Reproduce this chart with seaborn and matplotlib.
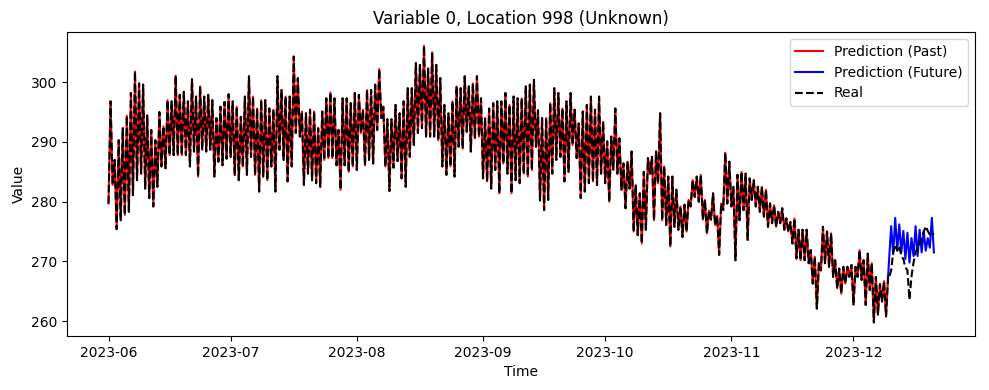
import numpy as np
import pandas as pd
import matplotlib
matplotlib.use("Agg")
import matplotlib.pyplot as plt
import seaborn as sns

# ---- data (daily lows / highs, Jun 1 .. Dec 9, 2023) ----
past_lows = [
    279.7, 282.8, 275.4, 276.9, 277.8, 278.3, 281.1, 283.6, 284.7, 282.2,
    280.6, 279.2, 282.5, 285.9, 285.6, 287.8, 287.8, 287.8, 287.8, 287.8,
    285.9, 288.4, 284.2, 288.7, 288.4, 288.7, 284.2, 286.7, 286.1, 287.2,
    287.5, 284.5, 283.6, 285.9, 284.5, 287.5, 284.5, 281.7, 284.2, 283.6,
    285.9, 281.7, 288.7, 287.0, 283.4, 285.9, 291.5, 290.9, 282.8, 284.7,
    283.6, 283.1, 282.5, 287.0, 287.3, 287.3, 286.1, 282.0, 286.1, 285.0,
    285.9, 285.3, 291.5, 286.1, 287.0, 286.4, 292.0, 294.0, 285.9, 281.8,
    285.7, 286.8, 283.9, 282.5, 287.5, 289.5, 291.5, 292.3, 290.9, 290.9,
    290.9, 290.3, 285.9, 284.5, 285.9, 284.2, 289.2, 288.9, 291.7, 288.4,
    290.6, 290.9, 283.9, 283.4, 282.2, 285.3, 281.4, 286.4, 284.7, 281.4,
    283.6, 283.1, 284.7, 284.2, 285.3, 289.2, 280.2, 278.6, 280.3, 284.7,
    287.0, 287.5, 283.4, 285.0, 289.5, 287.3, 280.6, 281.7, 283.1, 283.4,
    282.8, 284.7, 283.1, 280.0, 285.3, 284.7, 282.0, 278.9, 282.2, 275.0,
    274.4, 273.0, 275.3, 284.7, 276.9, 283.1, 276.9, 276.1, 272.5, 275.8,
    275.3, 274.1, 275.0, 279.2, 280.8, 280.0, 277.0, 274.7, 277.0, 276.1,
    271.1, 278.6, 279.7, 279.2, 270.2, 276.9, 278.6, 273.6, 280.3, 279.2,
    278.3, 277.5, 275.8, 276.4, 275.8, 276.4, 275.3, 275.0, 273.0, 270.5,
    270.2, 270.2, 269.7, 266.3, 262.1, 268.5, 269.7, 269.1, 267.4, 265.5,
    264.6, 266.3, 267.4, 262.7, 267.4, 266.9, 262.7, 265.2, 259.8, 261.1,
    263.3, 260.8,
]
past_highs = [
    296.8, 287.0, 290.3, 292.3, 294.4, 298.2, 301.8, 299.8, 299.6, 294.5,
    292.0, 290.3, 295.0, 292.6, 297.0, 296.8, 301.1, 297.9, 298.4, 296.8,
    300.5, 297.6, 299.3, 297.6, 297.9, 297.0, 294.0, 295.9, 296.7, 298.0,
    296.8, 295.9, 294.2, 297.6, 301.0, 297.6, 295.6, 297.0, 297.0, 295.6,
    295.4, 301.0, 298.7, 297.6, 297.6, 304.3, 300.7, 295.1, 294.8, 295.4,
    295.1, 292.3, 295.1, 297.3, 298.3, 297.3, 292.0, 297.3, 297.3, 296.5,
    298.2, 297.9, 295.4, 298.7, 298.7, 299.6, 302.2, 295.9, 293.8, 293.8,
    296.2, 294.8, 296.8, 299.0, 299.0, 303.2, 302.9, 306.1, 302.3, 305.0,
    302.9, 300.7, 296.2, 294.8, 296.8, 299.3, 299.0, 301.0, 299.3, 299.8,
    301.0, 297.3, 294.0, 295.6, 296.5, 296.8, 296.8, 298.2, 296.2, 297.6,
    297.3, 297.3, 299.3, 299.6, 300.4, 295.3, 294.0, 294.0, 296.5, 299.0,
    298.2, 295.6, 296.8, 298.2, 295.4, 293.1, 295.1, 296.2, 297.6, 295.4,
    297.6, 293.4, 290.1, 290.9, 295.6, 290.6, 286.4, 286.7, 288.4, 282.8,
    281.4, 285.0, 287.3, 287.5, 288.4, 294.8, 285.9, 284.2, 284.2, 282.0,
    279.2, 279.5, 280.3, 283.6, 284.2, 284.5, 280.3, 278.5, 281.4, 277.6,
    279.7, 288.2, 286.7, 282.5, 284.5, 285.0, 284.7, 283.9, 283.6, 282.5,
    282.5, 282.0, 279.7, 279.4, 278.3, 278.9, 277.2, 276.6, 277.2, 275.3,
    275.3, 275.3, 271.9, 270.8, 269.7, 275.8, 275.0, 274.7, 270.2, 268.8,
    269.1, 269.1, 269.4, 269.1, 271.9, 270.2, 271.3, 269.7, 267.4, 266.2,
    266.7, 267.5,
]

# future prediction (blue), alternating high / low every 12 h from Dec 10 06:00
future_pred = [
    275.9, 271.2, 277.3, 271.8, 276.2, 271.5, 275.1, 270.4, 274.8, 269.8,
    273.9, 270.9, 275.9, 270.9, 275.3, 271.5, 275.1, 271.8, 273.9, 272.3,
    277.3, 271.5,
]
# real values over the future window, every 12 h from Dec 09 18:00
future_real = [
    267.3, 268.5, 271.5, 272.8, 271.8, 272.6, 270.9, 270.4, 269.0, 268.5,
    263.6, 267.5, 269.8, 271.5, 272.3, 273.0, 274.0, 274.9, 275.9, 275.1,
    274.5, 274.8, 274.5,
]

title = "Variable 0, Location 998 (Unknown)"
labels = ["Prediction (Past)", "Prediction (Future)", "Real"]

# ---- build series ----
past_vals = np.ravel(np.column_stack([past_lows, past_highs]))
past_times = pd.date_range("2023-06-01 00:00", periods=len(past_vals), freq="12h")

fut_times = pd.date_range("2023-12-10 06:00", periods=len(future_pred), freq="12h")
fut_times = fut_times.insert(0, past_times[-1])
fut_vals = np.concatenate([[past_vals[-1]], future_pred])

real_f_times = pd.date_range("2023-12-09 18:00", periods=len(future_real), freq="12h")
real_times = past_times.append(real_f_times)
real_vals = np.concatenate([past_vals, future_real])

fig, ax = plt.subplots(figsize=(9.89, 3.9), dpi=100)
sns.lineplot(x=past_times, y=past_vals, color="red", label=labels[0], ax=ax, lw=1.5)
sns.lineplot(x=fut_times, y=fut_vals, color="blue", label=labels[1], ax=ax, lw=1.5)
sns.lineplot(x=real_times, y=real_vals, color="black", label=labels[2], ax=ax,
             lw=1.5, linestyle="--")

ax.set_title(title, fontsize=12)
ax.set_xlabel("Time")
ax.set_ylabel("Value")
ax.legend(loc="upper right")
fig.subplots_adjust(left=0.068, right=0.986, top=0.918, bottom=0.138)
fig.savefig("out.png", dpi=100)
